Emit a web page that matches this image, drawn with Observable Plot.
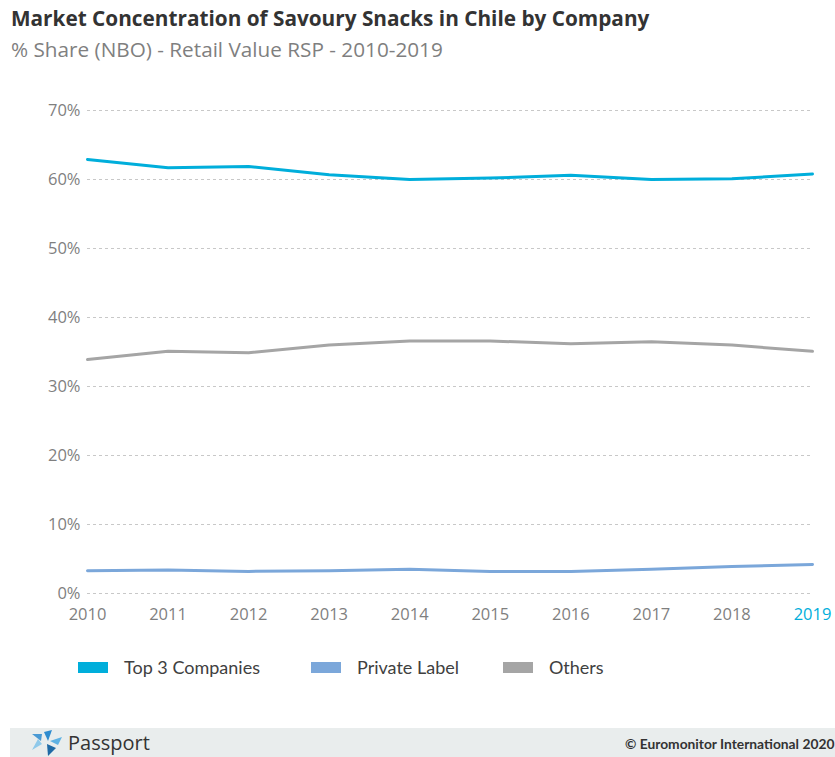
<!DOCTYPE html>
<html><head><meta charset="utf-8">
<script src="https://cdn.jsdelivr.net/npm/d3@7"></script>
<script src="https://cdn.jsdelivr.net/npm/@observablehq/plot@0.6"></script>
<style>
body{margin:0;width:835px;height:757px;position:relative;background:#fff;font-family:Lato,"Open Sans",sans-serif;overflow:hidden}
#title{position:absolute;left:11px;top:4px;font-weight:bold;font-size:20.5px;color:#333;white-space:nowrap;font-family:"Open Sans",sans-serif}
#subtitle{position:absolute;left:11px;top:35px;font-size:18.5px;color:#7f7f7f;white-space:nowrap;font-family:"Open Sans",sans-serif}
#chart{position:absolute;left:0;top:90px}
#legend{position:absolute;left:0;top:655px;width:835px;height:24px}
.lg{position:absolute;top:0;display:flex;align-items:center;font-size:18px;color:#404040;white-space:nowrap;height:24px}
.sw{width:30px;height:11px;margin-right:16px}
#footer{position:absolute;left:10px;top:728px;width:825px;height:29px;background:#e9eded}
#pp{position:absolute;left:58px;top:1px;font-size:20px;color:#333;font-family:"Open Sans",sans-serif}
#copy{position:absolute;left:615px;top:7px;font-size:13.8px;font-weight:bold;color:#333;white-space:nowrap}
#logo{position:absolute;left:18px;top:2px}
</style></head><body>
<div id="title">Market Concentration of Savoury Snacks in Chile by Company</div>
<div id="subtitle">% Share (NBO) - Retail Value RSP - 2010-2019</div>
<div id="chart"></div>
<div id="legend"></div>
<div id="footer">
<svg id="logo" width="36" height="26" viewBox="0 0 36 26">
<polygon points="16,2 24,0 20,11" fill="#2f8ccf"/>
<polygon points="22,11 34,7 30,15" fill="#5fb2e3"/>
<polygon points="19,14 28,18 20,26" fill="#1f6aa5"/>
<polygon points="14,14 4,20 10,9" fill="#8fc9ea"/>
<polygon points="13,11 4,4 14,4" fill="#4a9ad4"/>
</svg>
<div id="pp">Passport</div>
<div id="copy">© Euromonitor International 2020</div>
</div>
<script>
const years = [2010, 2011, 2012, 2013, 2014, 2015, 2016, 2017, 2018, 2019];
const top3Companies = [62.9, 61.7, 61.9, 60.7, 60.0, 60.2, 60.6, 60.0, 60.1, 60.8];
const privateLabel = [3.3, 3.4, 3.2, 3.3, 3.5, 3.2, 3.2, 3.5, 3.9, 4.2];
const others = [33.9, 35.1, 34.9, 36.0, 36.6, 36.6, 36.2, 36.5, 36.0, 35.1];
const seriesNames = ["Top 3 Companies", "Private Label", "Others"];
const seriesColors = ["#00aedb", "#7ba7da", "#a5a5a5"];
const yTicks = [0, 10, 20, 30, 40, 50, 60, 70];

// fit title/subtitle widths to the reference text extents
function fitWidth(id, target) {
  const el = document.getElementById(id);
  const fs = parseFloat(getComputedStyle(el).fontSize);
  const w = el.getBoundingClientRect().width;
  el.style.fontSize = (fs * target / w) + "px";
}
fitWidth("title", 639);
fitWidth("subtitle", 432);

const seriesValues = [top3Companies, privateLabel, others];
const data = [];
seriesNames.forEach((s, i) => years.forEach((y, j) => data.push({series: s, year: y, value: seriesValues[i][j]})));

const chart = Plot.plot({
  width: 835, height: 540,
  marginLeft: 87, marginRight: 23, marginTop: 20, marginBottom: 37,
  style: {fontFamily: "'Open Sans', sans-serif", fontSize: "16.5px", background: "transparent"},
  x: {domain: [2010, 2019]},
  y: {domain: [0, 70]},
  color: {domain: seriesNames, range: seriesColors},
  marks: [
    Plot.ruleY(yTicks, {stroke: "#c8c8c8", strokeWidth: 1, strokeDasharray: "3,3"}),
    Plot.axisY(yTicks, {tickSize: 0, tickPadding: 7, tickFormat: d => d + "%", fill: "#7f7f7f", fontSize: 16.5, label: null}),
    Plot.axisX(years.filter(y => y !== 2019), {tickSize: 0, tickPadding: 15, tickFormat: d => String(d), fill: "#7f7f7f", fontSize: 16.5, label: null}),
    Plot.axisX([2019], {tickSize: 0, tickPadding: 15, tickFormat: d => String(d), fill: "#00aedb", fontSize: 16.5, label: null}),
    Plot.line(data, {x: "year", y: "value", z: "series", stroke: "series", strokeWidth: 3, curve: "linear"})
  ]
});
document.getElementById("chart").appendChild(chart);

const legendX = [78, 311, 503];
const lg = document.getElementById("legend");
seriesNames.forEach((s, i) => {
  const d = document.createElement("div");
  d.className = "lg";
  d.style.left = legendX[i] + "px";
  d.innerHTML = `<div class="sw" style="background:${seriesColors[i]}"></div><span>${s}</span>`;
  lg.appendChild(d);
});
</script>
</body></html>
